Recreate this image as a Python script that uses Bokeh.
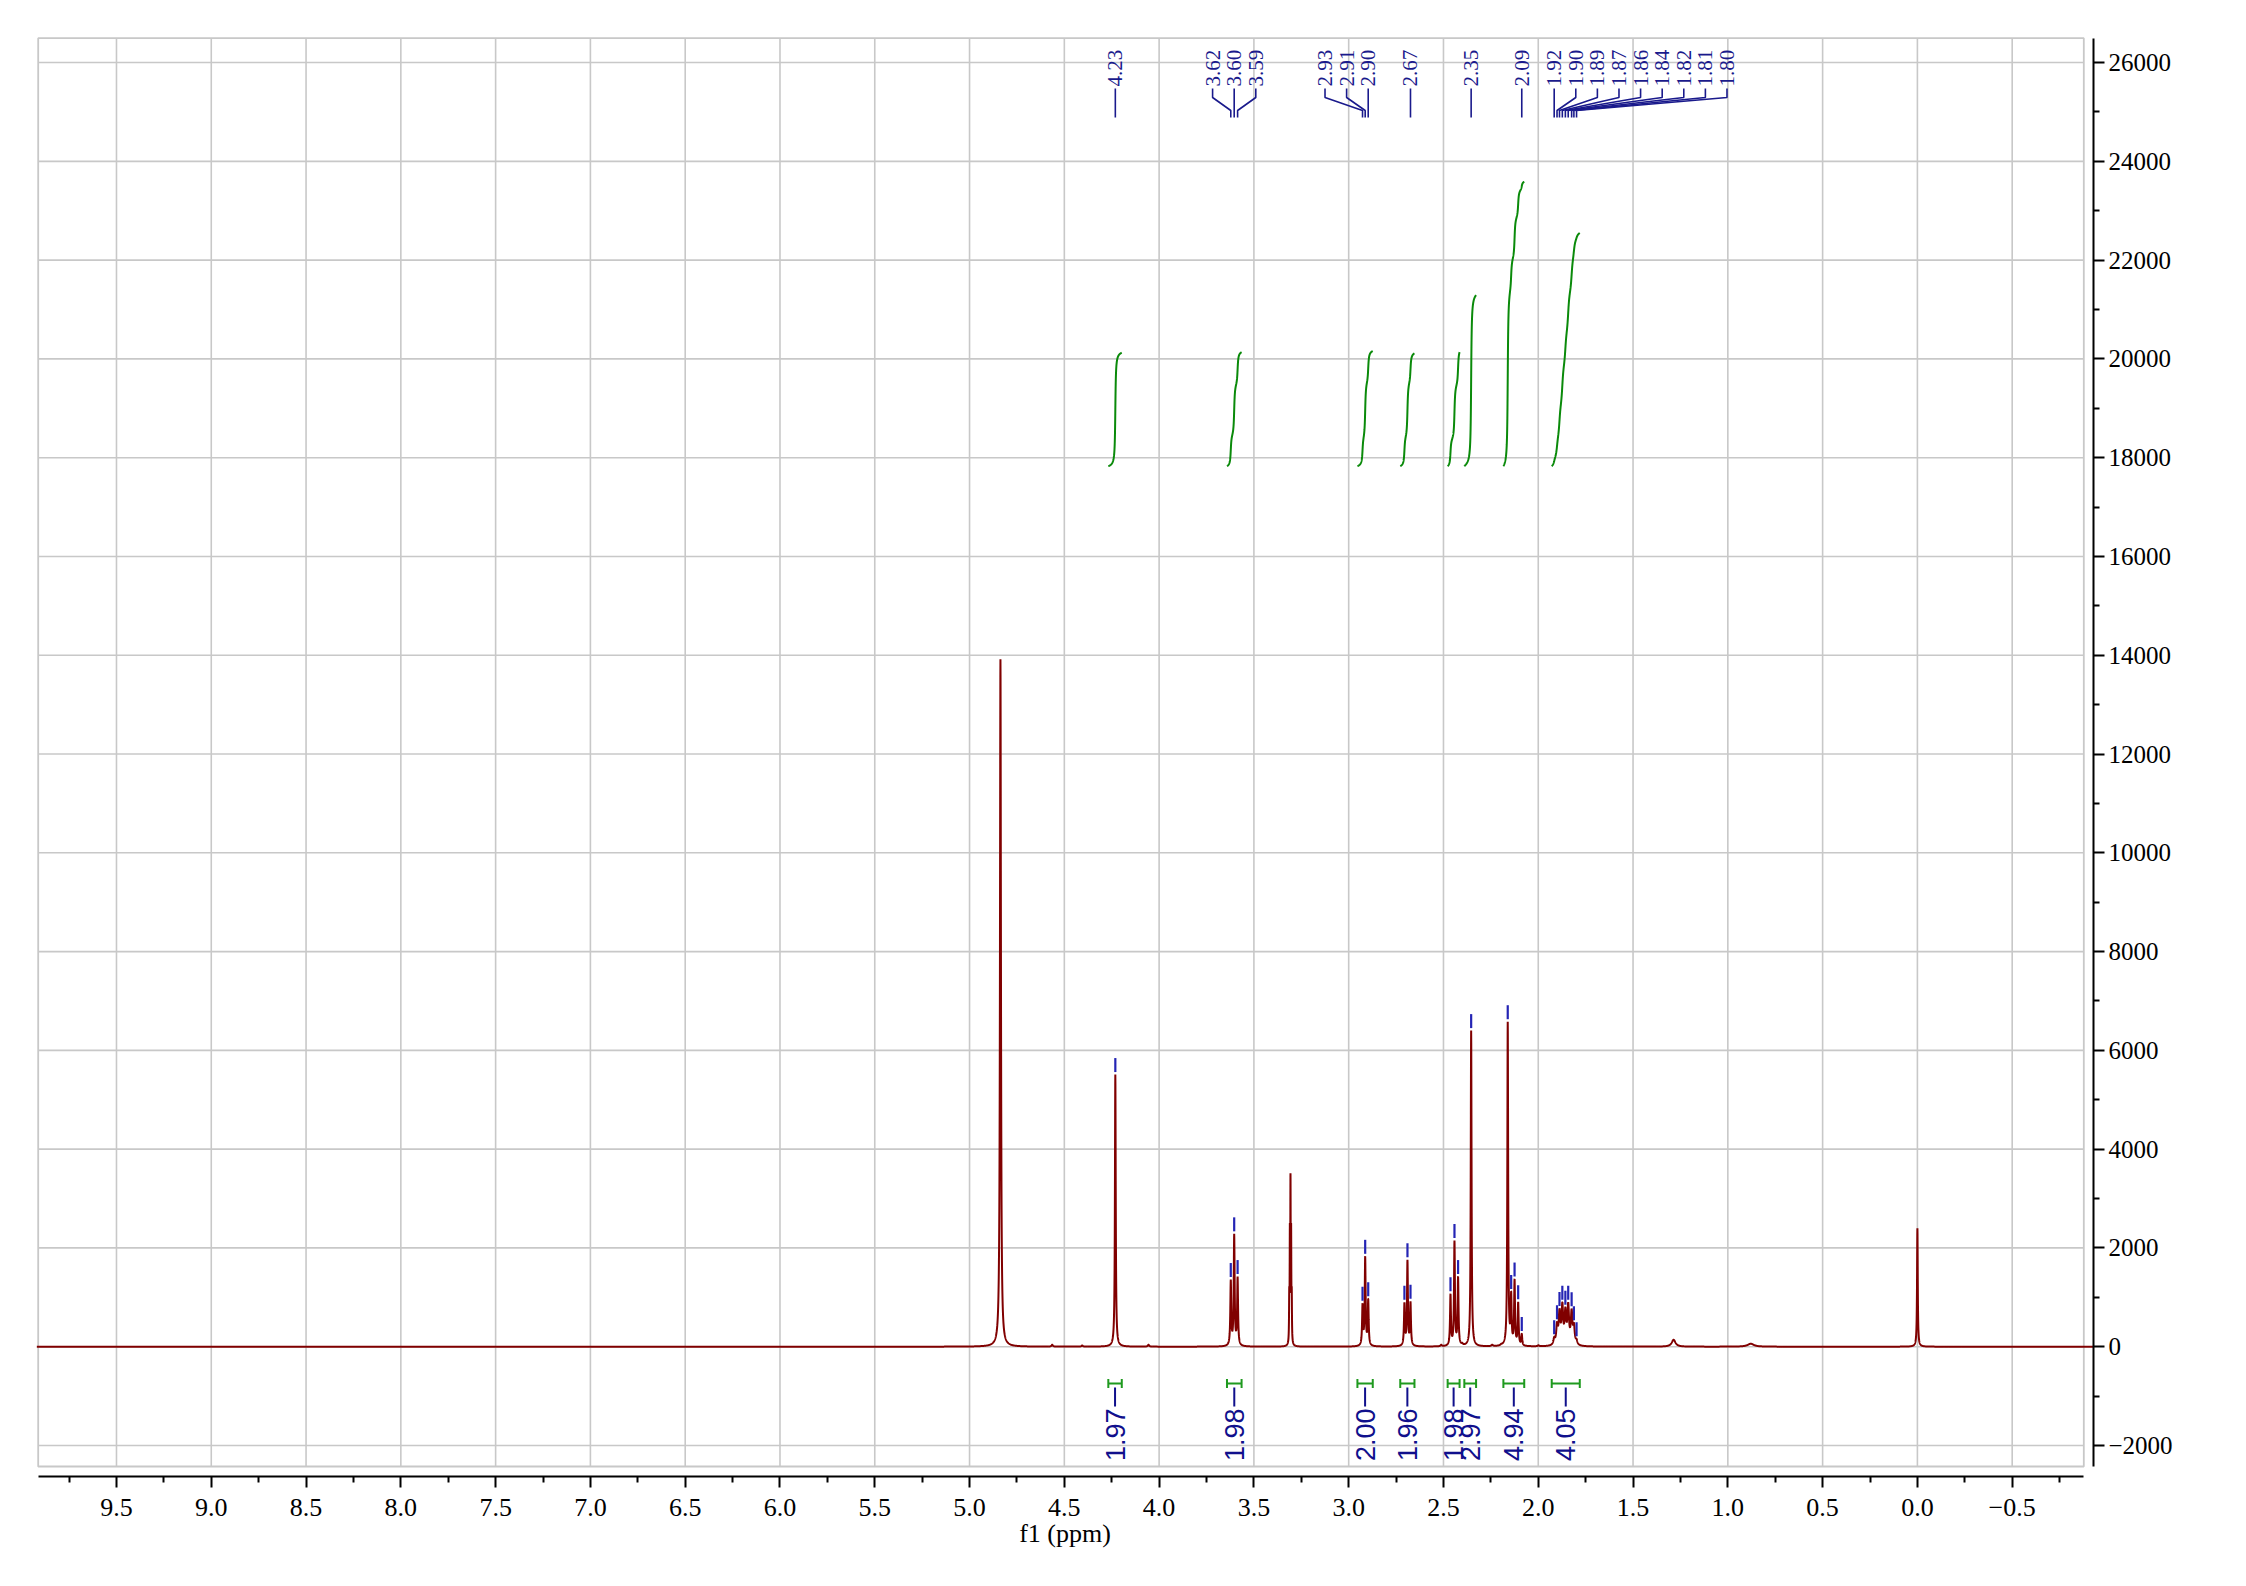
import numpy as np
from math import pi
from bokeh.plotting import figure
from bokeh.models import Range1d, FixedTicker, LinearAxis
from bokeh.core.properties import value
from bokeh.embed import file_html
from bokeh.resources import INLINE

# ------------------------------------------------------------------ data
# 1H NMR peak list: position (ppm), height, half width (ppm)
peak_ppm = [4.837, 4.564, 4.406, 4.231, 4.056,
            3.622, 3.604, 3.586,
            3.3004, 3.3037, 3.307, 3.3103, 3.3136,
            2.927, 2.913, 2.897,
            2.706, 2.690, 2.674,
            2.512,
            2.463, 2.442, 2.423, 2.401,
            2.354,
            2.243, 2.195,
            2.161, 2.143, 2.125, 2.106, 2.087,
            1.999,
            1.916, 1.901, 1.888, 1.873, 1.857, 1.842, 1.824, 1.812, 1.798,
            1.286, 0.879, 0.000]
peak_height = [13920, 40, 25, 5510, 40,
               1360, 2285, 1420,
               1200, 2500, 3510, 2500, 1200,
               880, 1830, 970,
               900, 1760, 920,
               40,
               1070, 2150, 1420, 80,
               6400,
               40, 60,
               6580, 1120, 1370, 910, 265,
               30,
               200, 505, 775, 900, 800, 900, 770, 485, 160,
               140, 60, 2400]
peak_hwhm = [0.003, 0.004, 0.004, 0.0025, 0.004,
             0.0028, 0.0028, 0.0028,
             0.0012, 0.0012, 0.0012, 0.0012, 0.0012,
             0.0028, 0.0028, 0.0028,
             0.0028, 0.0028, 0.0028,
             0.004,
             0.0028, 0.0028, 0.0028, 0.004,
             0.0025,
             0.005, 0.005,
             0.0025, 0.0028, 0.0028, 0.0028, 0.0028,
             0.004,
             0.005, 0.005, 0.005, 0.005, 0.005, 0.005, 0.005, 0.005, 0.005,
             0.012, 0.02, 0.0022]

# peaks marked with a blue tick
picked_ppm = [4.231, 3.622, 3.604, 3.586, 2.927, 2.913, 2.897,
              2.706, 2.690, 2.674, 2.463, 2.442, 2.423, 2.354,
              2.161, 2.143, 2.125, 2.106, 2.087,
              1.916, 1.901, 1.888, 1.873, 1.857, 1.842, 1.824, 1.812, 1.798]
# peaks with a printed shift label
label_ppm = [4.231, 3.622, 3.604, 3.586, 2.927, 2.913, 2.897, 2.674, 2.354, 2.087,
             1.916, 1.901, 1.888, 1.873, 1.857, 1.842, 1.824, 1.812, 1.798]
# label layout groups: (indices into label_ppm, index of the label that stays on its peak)
label_groups = [([0], 0), ([1, 2, 3], 1), ([4, 5, 6], 2), ([7], 0), ([8], 0), ([9], 0),
                ([10, 11, 12, 13, 14, 15, 16, 17, 18], 0)]

# integrals
int_from = [4.268, 3.642, 2.954, 2.728, 2.478, 2.390, 2.184, 1.929]
int_to = [4.197, 3.565, 2.873, 2.653, 2.415, 2.328, 2.074, 1.781]
int_value = [1.97, 1.98, 2.00, 1.96, 1.98, 2.97, 4.94, 4.05]

x_tick_values = [9.5, 9.0, 8.5, 8.0, 7.5, 7.0, 6.5, 6.0, 5.5, 5.0, 4.5, 4.0,
                 3.5, 3.0, 2.5, 2.0, 1.5, 1.0, 0.5, 0.0, -0.5]
x_tick_labels = ["9.5", "9.0", "8.5", "8.0", "7.5", "7.0", "6.5", "6.0", "5.5", "5.0",
                 "4.5", "4.0", "3.5", "3.0", "2.5", "2.0", "1.5", "1.0", "0.5", "0.0",
                 "\u22120.5"]
y_tick_values = [26000, 24000, 22000, 20000, 18000, 16000, 14000, 12000, 10000,
                 8000, 6000, 4000, 2000, 0, -2000]
y_tick_labels = ["26000", "24000", "22000", "20000", "18000", "16000", "14000", "12000",
                 "10000", "8000", "6000", "4000", "2000", "0", "\u22122000"]
x_label = "f1 (ppm)"

# ------------------------------------------------------------------ geometry
PPM0_X, PX_PER_PPM = 1916.9, 189.57      # page x of 0 ppm, pixels per ppm
CNT0_Y, PX_PER_CNT = 1346.2, 0.04939     # page y of 0, pixels per count
FL, FR, FT, FB = 36, 2093, 36, 1476      # bokeh frame (page px)
BL, BR, BT, BB = 37.7, 2083.3, 37.7, 1466.0   # grey box (page px)


def ppm_at(px):
    return (PPM0_X - px) / PX_PER_PPM


def cnt_at(py):
    return (CNT0_Y - py) / PX_PER_CNT


X_START, X_END = ppm_at(FL), ppm_at(FR)
Y_END, Y_START = cnt_at(FT), cnt_at(FB)
box_l, box_r, box_t, box_b = ppm_at(BL), ppm_at(BR), cnt_at(BT), cnt_at(BB)

# ------------------------------------------------------------------ spectrum
c = np.array(peak_ppm, float)
w = np.array(peak_hwhm, float)
H = np.array(peak_height, float)
M = 1.0 / (1.0 + ((c[:, None] - c[None, :]) / w[None, :]) ** 2)
A = np.clip(np.linalg.solve(M, H), 0, None)


def spec(x):
    x = np.asarray(x, float)
    return (A[None, :] / (1.0 + ((x[:, None] - c[None, :]) / w[None, :]) ** 2)).sum(axis=1)


xs = [np.arange(X_END, X_START, 0.002), c]
for ci in c:
    xs.append(ci + np.linspace(-0.04, 0.04, 161))
xs = np.unique(np.concatenate(xs))
xs = xs[(xs >= X_END) & (xs <= X_START)]
ys = spec(xs)

# ------------------------------------------------------------------ figure
p = figure(width=FR + 140, height=FB + 100, x_range=Range1d(X_START, X_END),
           y_range=Range1d(Y_START, Y_END), output_backend="svg",
           toolbar_location=None, x_axis_location=None, y_axis_location=None,
           min_border_left=FL, min_border_top=FT,
           min_border_right=140, min_border_bottom=100)
p.outline_line_color = None
p.grid.visible = False
p.background_fill_color = "white"
p.border_fill_color = "white"

GRID = "#c8c8c8"
p.segment(x0=x_tick_values, y0=[box_b] * len(x_tick_values), x1=x_tick_values,
          y1=[box_t] * len(x_tick_values), line_color=GRID, line_width=1.6)
p.segment(x0=[box_l] * len(y_tick_values), y0=y_tick_values, x1=[box_r] * len(y_tick_values),
          y1=y_tick_values, line_color=GRID, line_width=1.6)
p.quad(left=[box_l], right=[box_r], top=[box_t], bottom=[box_b], fill_color=None,
       line_color=GRID, line_width=1.8)

# integral curves
INT_BASE, INT_SCALE = cnt_at(465.7), 1166.0
GREEN = "#0a8a0a"
for a, b, v in zip(int_from, int_to, int_value):
    xi = np.linspace(a, b, 500)
    inside = c[(c < a) & (c > b)]
    xi = np.unique(np.concatenate([xi, inside]))[::-1]
    yi = spec(xi)
    cum = np.concatenate([[0], np.cumsum(0.5 * (yi[1:] + yi[:-1]) * np.abs(np.diff(xi)))])
    p.line(xi, INT_BASE + v * INT_SCALE * cum / cum[-1], line_color=GREEN, line_width=2)

# spectrum
p.line(xs, ys, line_color="#800000", line_width=2)

# peak ticks
BLUE = "#2424b4"
ph = spec(picked_ppm)
gap, blen = 2.5 / PX_PER_CNT, 14 / PX_PER_CNT
p.segment(x0=picked_ppm, y0=ph + gap, x1=picked_ppm, y1=ph + gap + blen,
          line_color=BLUE, line_width=2.2)

# peak labels with connectors
NAVY = "#1a1a8c"
spacing = 21.6 / PX_PER_PPM
lab_x = [0.0] * len(label_ppm)
for idx, anchor in label_groups:
    base = label_ppm[idx[anchor]]
    for k, i in enumerate(idx):
        lab_x[i] = base - (k - anchor) * spacing
y_txt, y1, y2, y3, y4 = cnt_at(86), cnt_at(88), cnt_at(97), cnt_at(110), cnt_at(117)
p.multi_line(xs=[[lx, lx, px, px] for lx, px in zip(lab_x, label_ppm)],
             ys=[[y1, y2, y3, y4] for _ in label_ppm], line_color=NAVY, line_width=1.6)
p.text(x=lab_x, y=[y_txt] * len(lab_x), text=["%.2f" % v for v in label_ppm],
       angle=pi / 2, text_align="left", text_baseline="middle",
       text_font=value("Liberation Serif"), text_font_size="21px", text_color=NAVY)

# integral brackets and values
yb = cnt_at(1383)
cap = 4.5 / PX_PER_CNT
BGREEN = "#1f9a1f"
mid = [(a + b) / 2 for a, b in zip(int_from, int_to)]
p.segment(x0=int_from, y0=[yb] * len(mid), x1=int_to, y1=[yb] * len(mid),
          line_color=BGREEN, line_width=2)
p.segment(x0=int_from + int_to, y0=[yb - cap] * (2 * len(mid)), x1=int_from + int_to,
          y1=[yb + cap] * (2 * len(mid)), line_color=BGREEN, line_width=2)
p.segment(x0=mid, y0=[cnt_at(1387)] * len(mid), x1=mid, y1=[cnt_at(1406)] * len(mid),
          line_color="#10108c", line_width=2)
p.text(x=mid, y=[cnt_at(1408)] * len(mid), text=["%.2f" % v for v in int_value],
       angle=pi / 2, text_align="right", text_baseline="middle",
       text_font=value("Liberation Sans"), text_font_size="27px", text_color="#10108c")

# axes
FONT = "Liberation Serif"
xaxis = LinearAxis(ticker=FixedTicker(ticks=x_tick_values,
                                      minor_ticks=[t + 0.25 for t in x_tick_values] + [-0.75]),
                   bounds=(box_r, box_l),
                   major_label_overrides=dict(zip(x_tick_values, x_tick_labels)),
                   axis_label=x_label)
yaxis = LinearAxis(ticker=FixedTicker(ticks=y_tick_values,
                                      minor_ticks=[t - 1000 for t in y_tick_values[:-1]]),
                   bounds=(box_b, box_t),
                   major_label_overrides=dict(zip(y_tick_values, y_tick_labels)))
for ax in (xaxis, yaxis):
    ax.axis_line_color = "black"
    ax.axis_line_width = 2
    ax.major_tick_in = 0
    ax.major_tick_out = 11
    ax.minor_tick_in = 0
    ax.minor_tick_out = 6
    ax.major_tick_line_width = 2
    ax.minor_tick_line_width = 2
    ax.major_tick_line_color = "black"
    ax.minor_tick_line_color = "black"
    ax.major_label_text_font = FONT
    ax.major_label_text_font_size = "25px"
    ax.major_label_text_color = "black"
    ax.axis_label_text_font = FONT
    ax.axis_label_text_font_size = "26px"
    ax.axis_label_text_font_style = "normal"
    ax.axis_label_text_color = "black"
xaxis.major_label_text_font_size = "26px"
xaxis.major_label_standoff = 11
xaxis.axis_label_standoff = 0
yaxis.major_label_standoff = 4
p.add_layout(xaxis, "below")
p.add_layout(yaxis, "right")

open("out.html", "w").write(file_html(p, INLINE))
